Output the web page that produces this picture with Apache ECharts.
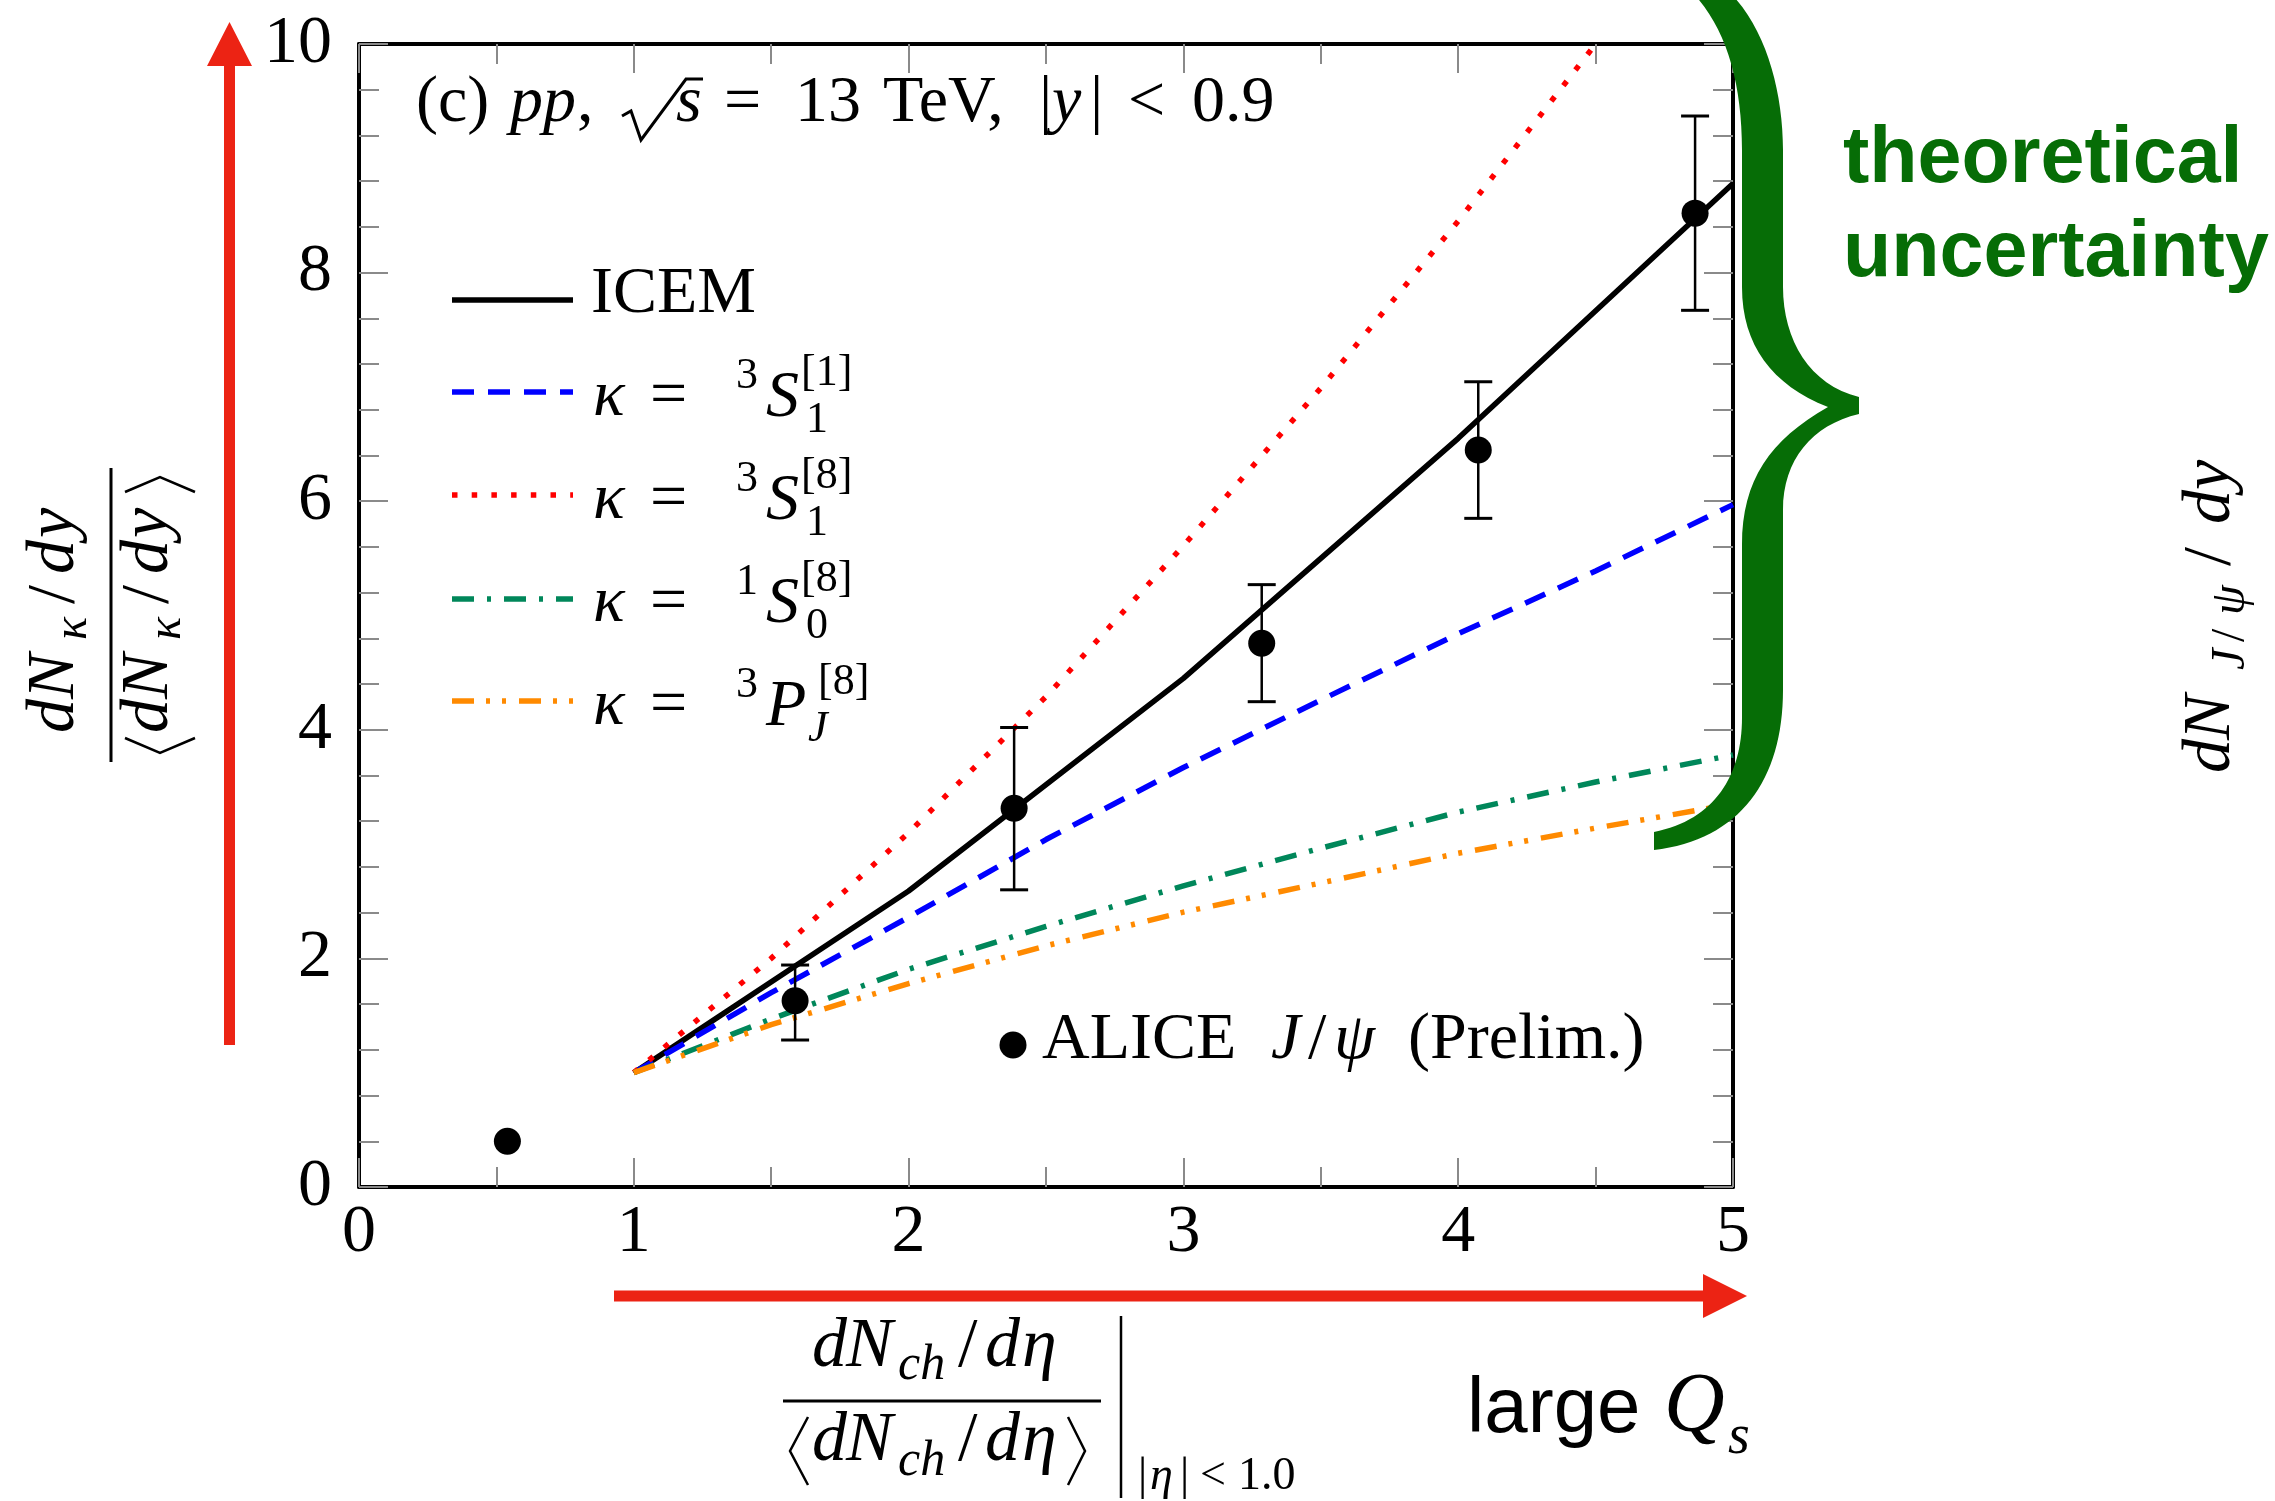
<!DOCTYPE html>
<html>
<head>
<meta charset="utf-8">
<script src="https://cdn.jsdelivr.net/npm/echarts@6/dist/echarts.min.js"></script>
<style>
  html, body { margin: 0; padding: 0; background: #ffffff; }
  #chart { width: 2275px; height: 1501px; }
</style>
</head>
<body>
<div id="chart"></div>
<script>
// ---- data -------------------------------------------------------------
// ICEM curve (normalised multiplicity -> normalised J/psi yield)
const icemX = [1, 1.07, 2, 3, 4, 5];
const icemY = [1, 1.11, 2.59, 4.45, 6.55, 8.78];

// NRQCD channel curves, common x grid
const kappaX  = [1, 1.5, 2, 2.5, 3, 3.5, 4, 4.5, 5];
const s1Sing  = [1, 1.70, 2.36, 3.04, 3.67, 4.26, 4.84, 5.39, 5.97];   // 3S1[1]
const s1Oct   = [1, 2.00, 3.10, 4.29, 5.61, 6.99, 8.45, 10.0, 11.7];   // 3S1[8]
const s0Oct   = [1, 1.47, 1.905, 2.28, 2.635, 2.964, 3.28, 3.543, 3.78]; // 1S0[8]
const pjOct   = [1, 1.42, 1.78, 2.11, 2.405, 2.66, 2.92, 3.14, 3.35];  // 3PJ[8]

// ALICE J/psi (preliminary)
const aliceX  = [0.54, 1.587, 2.384, 3.285, 4.073, 4.862];
const aliceY  = [0.40, 1.63, 3.313, 4.757, 6.448, 8.52];
const aliceLo = [null, 1.286, 2.60, 4.246, 5.85, 7.67];
const aliceHi = [null, 1.942, 4.02, 5.27, 7.045, 9.37];

// axis ranges
const xRange = [0, 5, 1];   // min, max, major step
const yRange = [0, 10, 2];

// ---- helpers ----------------------------------------------------------
const SERIF = '"Liberation Serif", "DejaVu Serif", serif';
const SANS = '"Liberation Sans", Arial, sans-serif';
const GREEN = '#066d06';
const ARROW = '#ec2314';
const TICK = '#8a8a8a';

const zip = (xs, ys) => xs.map((x, i) => [x, ys[i]]);

// big curly brace outline
const braceOutline =
  'M 1690 -10 L 1727 -10 C 1765 25 1783 90 1783 150 L 1783 287 C 1783 340 1810 385 1859 397 ' +
  'L 1859 414 C 1812 425 1783 460 1783 510 L 1783 690 C 1783 780 1740 840 1654 850 L 1654 832 ' +
  'C 1715 820 1742 775 1742 718 L 1742 545 C 1742 480 1770 440 1828 407 C 1772 385 1742 345 1742 287 ' +
  'L 1742 150 C 1742 80 1725 25 1690 -10 Z';
echarts.graphic.registerShape('brace', echarts.graphic.extendPath(braceOutline, {}));

// text placed by its left edge and baseline
function T(x, base, str, size, opt) {
  opt = opt || {};
  const font = (opt.italic ? 'italic ' : '') + (opt.bold ? 'bold ' : '') + size + 'px ' + (opt.family || SERIF);
  return {
    type: 'text', z: 50,
    x: x, y: base - 0.34 * size,
    style: { text: str, font: font, fill: opt.fill || '#000', align: 'left', verticalAlign: 'middle' }
  };
}
// text rotated to read bottom-to-top; bx = x of the baseline, startY = bottom end
function R(bx, startY, str, size, opt) {
  opt = opt || {};
  const font = (opt.italic ? 'italic ' : '') + size + 'px ' + SERIF;
  return {
    type: 'text', z: 50,
    x: bx - 0.34 * size, y: startY, rotation: Math.PI / 2,
    style: { text: str, font: font, fill: '#000', align: 'left', verticalAlign: 'middle' }
  };
}
function L(x1, y1, x2, y2, w, color, dash) {
  return { type: 'line', z: 50, shape: { x1, y1, x2, y2 },
           style: { stroke: color || '#000', lineWidth: w, lineDash: dash || null, lineCap: 'butt' } };
}
function P(points, w) {
  return { type: 'polyline', z: 50, shape: { points: points },
           style: { stroke: '#000', lineWidth: w || 2.5, fill: null, lineJoin: 'miter' } };
}

// line styles of the five curves
const styles = {
  icem: { color: '#000000', width: 5.5, type: 'solid' },
  s1s:  { color: '#0000ff', width: 5.5, type: [22, 14] },
  s1o:  { color: '#ff0000', width: 5.5, type: [5.5, 14.2] },
  s0o:  { color: '#00875a', width: 5.5, type: [22, 13, 4, 13] },
  pjo:  { color: '#ff8a00', width: 5.5, type: [22, 12, 4, 12, 4, 13] }
};

// ---- axes -------------------------------------------------------------
function axis(range, minorSplit, extra) {
  return Object.assign({
    type: 'value', min: range[0], max: range[1], interval: range[2],
    axisLine: { show: true, onZero: false, lineStyle: { color: '#000', width: 4 } },
    axisTick: { show: true, inside: true, length: 29, lineStyle: { color: TICK, width: 2 } },
    minorTick: { show: true, splitNumber: minorSplit, length: 20, lineStyle: { color: TICK, width: 2 } },
    splitLine: { show: false }, minorSplitLine: { show: false }
  }, extra);
}
const tickFont = { color: '#000', fontFamily: SERIF, fontSize: 68 };

// ---- decorations ------------------------------------------------------
const g = [];

// red arrows
g.push({ type: 'polygon', z: 40, shape: { points: [[224, 1045], [235, 1045], [235, 66], [252, 66], [229.5, 22], [207, 66], [224, 66]] },
         style: { fill: ARROW } });
g.push({ type: 'polygon', z: 40, shape: { points: [[614, 1290.5], [1703, 1290.5], [1703, 1274], [1747, 1296], [1703, 1318], [1703, 1301.5], [614, 1301.5]] },
         style: { fill: ARROW } });

// curly brace
g.push({ type: 'brace', z: 60, style: { fill: GREEN } });
g.push(T(1843, 187, 'theoretical', 79, { bold: true, family: SANS, fill: GREEN }));
g.push(T(1843, 281, 'uncertainty', 79, { bold: true, family: SANS, fill: GREEN }));

// panel caption: (c) pp, sqrt(s) = 13 TeV, |y| < 0.9
g.push(T(416, 126, '(c)', 66));
g.push(T(510, 126, 'pp', 66, { italic: true }));
g.push(T(577, 126, ',', 66));
g.push(P([[622, 116], [631, 111], [641, 140], [686, 79], [703, 79]], 3));
g.push(T(676, 126, 's', 66, { italic: true }));
g.push(T(724, 126, '=', 66));
g.push(T(795, 126, '13', 66));
g.push(T(883, 126, 'TeV,', 66));
g.push(T(1039, 126, '|', 66));
g.push(T(1052, 126, 'y', 66, { italic: true }));
g.push(T(1090, 126, '|', 66));
g.push(T(1128, 126, '<', 66));
g.push(T(1192, 126, '0.9', 66));

// legend: line samples
const legendRows = [['icem', 300], ['s1s', 392], ['s1o', 495], ['s0o', 599], ['pjo', 701]];
legendRows.forEach(([k, y]) => {
  const s = styles[k];
  g.push(L(452, y, 573, y, s.width, s.color, s.type === 'solid' ? null : s.type));
});
g.push(T(591, 317, 'ICEM', 66));
// legend: kappa = ^{2S+1}L_J^{[c]}
const kappaRows = [
  { pre: '3', L: 'S', post: '[1]', sub: '1' },
  { pre: '3', L: 'S', post: '[8]', sub: '1' },
  { pre: '1', L: 'S', post: '[8]', sub: '0' },
  { pre: '3', L: 'P', post: '[8]', sub: 'J' }
];
kappaRows.forEach((r, i) => {
  const d = 103 * i;
  const wide = r.L === 'P';
  g.push(T(593, 420 + d, '\u03ba', 66, { italic: true }));
  g.push(T(650, 420 + d, '=', 66));
  g.push(T(736, 391 + d, r.pre, 44));
  g.push(T(766, 421 + d, r.L, 66, { italic: true }));
  g.push(T(wide ? 818 : 801, 388 + d, r.post, 44));
  g.push(T(wide ? 808 : 806, 435 + d, r.sub, 44, { italic: r.sub === 'J' }));
});
// legend: data marker
g.push({ type: 'circle', z: 50, shape: { cx: 1013, cy: 1045, r: 13.5 }, style: { fill: '#000' } });
g.push(T(1042, 1063, 'ALICE', 66));
g.push(T(1271, 1063, 'J', 66, { italic: true }));
g.push(T(1308, 1063, '/', 66));
g.push(T(1334, 1063, '\u03c8', 66, { italic: true }));
g.push(T(1408, 1063, '(Prelim.)', 66));

// x-axis title: (dN_ch/deta)/<dN_ch/deta> evaluated at |eta|<1.0
[[1371, 1383], [1465, 1479]].forEach(([b, sb]) => {
  g.push(T(812, b, 'd', 70, { italic: true }));
  g.push(T(846, b, 'N', 70, { italic: true }));
  g.push(T(898, sb, 'ch', 50, { italic: true }));
  g.push(T(958, b, '/', 70));
  g.push(T(985, b, 'd', 70, { italic: true }));
  g.push(T(1022, b, '\u03b7', 70, { italic: true }));
});
g.push(P([[808, 1417], [790, 1451], [808, 1485]], 2.5));
g.push(P([[1068, 1417], [1085, 1451], [1068, 1485]], 2.5));
g.push(L(783, 1401, 1101, 1401, 3));
g.push(L(1121, 1316, 1121, 1498, 2.5));
g.push(T(1138, 1493, '|', 46));
g.push(T(1150, 1493, '\u03b7', 46, { italic: true }));
g.push(T(1180, 1493, '|', 46));
g.push(T(1200, 1493, '<', 46));
g.push(T(1238, 1493, '1.0', 46));

// large Q_s
g.push(T(1467, 1437, 'large', 78, { family: SANS }));
g.push(T(1664, 1437, 'Q', 84, { italic: true }));
g.push(T(1728, 1457, 's', 56, { italic: true }));

// y-axis title: (dN_kappa/dy)/<dN_kappa/dy>, rotated
[[78, 90], [172, 184]].forEach(([b, sb]) => {
  g.push(R(b, 733, 'd', 68, { italic: true }));
  g.push(R(b, 699, 'N', 68, { italic: true }));
  g.push(R(sb, 640, '\u03ba', 48, { italic: true }));
  g.push(R(b, 604, '/', 68));
  g.push(R(b, 574, 'd', 68, { italic: true }));
  g.push(R(b, 538, 'y', 68, { italic: true }));
});
g.push(L(111, 468, 111, 762, 3));
g.push(P([[125, 738], [160, 753], [195, 738]], 2.5));
g.push(P([[125, 492], [160, 477], [195, 492]], 2.5));

// right-hand title: dN_{J/psi}/dy, rotated
g.push(R(2234, 773, 'd', 68, { italic: true }));
g.push(R(2234, 740, 'N', 68, { italic: true }));
g.push(R(2248, 670, 'J', 48, { italic: true }));
g.push(R(2248, 642, '/', 48));
g.push(R(2248, 615, '\u03c8', 48, { italic: true }));
g.push(R(2234, 566, '/', 68));
g.push(R(2234, 524, 'd', 68, { italic: true }));
g.push(R(2234, 490, 'y', 68, { italic: true }));

// ---- chart ------------------------------------------------------------
function curve(name, xs, ys, k, z) {
  const s = styles[k];
  return {
    name: name, type: 'line', data: zip(xs, ys), xAxisIndex: 0, yAxisIndex: 0,
    showSymbol: false, symbol: 'none', z: z, clip: true,
    lineStyle: { color: s.color, width: s.width, type: s.type, cap: 'butt' }
  };
}

const errData = aliceX.map((x, i) => aliceLo[i] == null ? null : [x, aliceLo[i], aliceHi[i]])
                      .filter(v => v !== null);

const option = {
  animation: false,
  backgroundColor: '#ffffff',
  grid: { left: 359, top: 44, width: 1374, height: 1143 },
  xAxis: [
    axis(xRange, 2, { position: 'bottom', axisLabel: Object.assign({ margin: 12 }, tickFont) }),
    axis(xRange, 2, { position: 'top', axisLabel: { show: false } })
  ],
  yAxis: [
    axis(yRange, 5, { position: 'left', axisLabel: Object.assign({ margin: 27 }, tickFont) }),
    axis(yRange, 5, { position: 'right', axisLabel: { show: false } })
  ],
  series: [
    curve('ICEM', icemX, icemY, 'icem', 3),
    curve('3S1[1]', kappaX, s1Sing, 's1s', 3),
    curve('3S1[8]', kappaX, s1Oct, 's1o', 3),
    curve('1S0[8]', kappaX, s0Oct, 's0o', 3),
    curve('3PJ[8]', kappaX, pjOct, 'pjo', 3),
    {
      name: 'ALICE errors', type: 'custom', xAxisIndex: 0, yAxisIndex: 0, z: 5,
      data: errData, encode: { x: 0, y: [1, 2] },
      renderItem: function (params, api) {
        const lo = api.coord([api.value(0), api.value(1)]);
        const hi = api.coord([api.value(0), api.value(2)]);
        const w = 14;
        return { type: 'group', children: [
          { type: 'line', shape: { x1: lo[0], y1: lo[1], x2: hi[0], y2: hi[1] }, style: { stroke: '#000', lineWidth: 2.5 } },
          { type: 'line', shape: { x1: lo[0] - w, y1: lo[1], x2: lo[0] + w, y2: lo[1] }, style: { stroke: '#000', lineWidth: 3 } },
          { type: 'line', shape: { x1: hi[0] - w, y1: hi[1], x2: hi[0] + w, y2: hi[1] }, style: { stroke: '#000', lineWidth: 3 } }
        ] };
      }
    },
    {
      name: 'ALICE J/psi', type: 'scatter', xAxisIndex: 0, yAxisIndex: 0, z: 6,
      data: zip(aliceX, aliceY), symbol: 'circle', symbolSize: 27,
      itemStyle: { color: '#000', opacity: 1 }
    }
  ],
  graphic: g
};

const chart = echarts.init(document.getElementById('chart'), null, { renderer: 'canvas' });
chart.setOption(option);
</script>
</body>
</html>
